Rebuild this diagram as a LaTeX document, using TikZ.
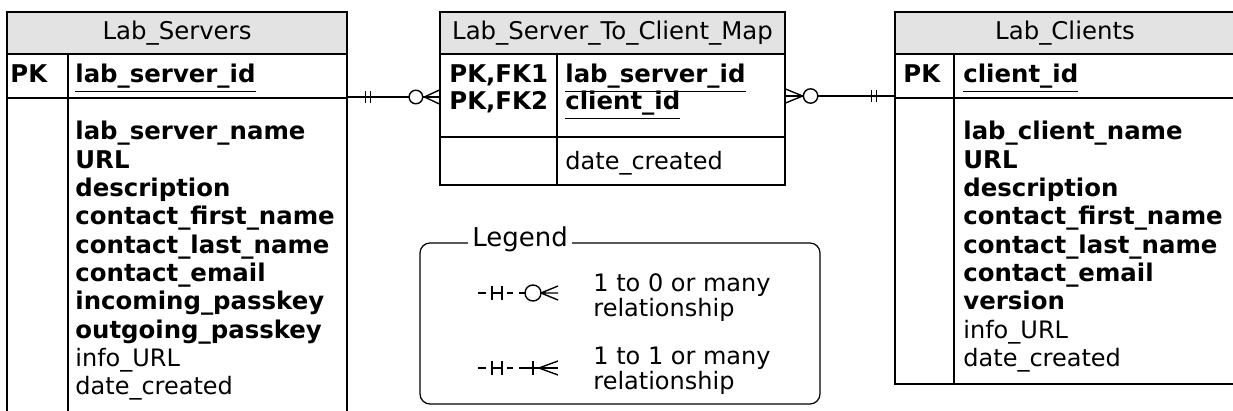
\documentclass[tikz,border=0pt]{standalone}
\usepackage{fontspec}
\setmainfont{DejaVu Sans}
\usetikzlibrary{calc,fit}
\begin{document}
\begin{tikzpicture}[x=0.5pt,y=-0.5pt,
  tbl/.style={draw, line width=0.6pt, inner sep=0pt},
  hdr/.style={fill=black!11},
  rule/.style={line width=0.6pt},
  fld/.style={anchor=base west, inner sep=0pt, font=\fontsize{12}{14}\selectfont},
  bfld/.style={anchor=base west, inner sep=0pt, font=\fontsize{12.2}{14}\selectfont\bfseries},
  ttl/.style={anchor=base, inner sep=0pt, font=\fontsize{12.2}{14}\selectfont},
  rel/.style={line width=0.7pt},
  legtxt/.style={anchor=base west, inner sep=0pt, font=\fontsize{12}{14}\selectfont}]
\useasboundingbox (0,0) rectangle (1233,411);
\clip (0,0) rectangle (1233,411);

% ---- Lab_Servers ----
\fill[hdr] (7,12) rectangle (347,54);
\node[tbl, fit={(7,12) (347,440)}] (servers) {};
\draw[rule] (servers.west |- 0,54) -- (servers.east |- 0,54);
\draw[rule] (servers.west |- 0,98) -- (servers.east |- 0,98);
\draw[rule] (68,54) -- (68,440);
\node[ttl] (servers-title) at (177,40) {Lab\_Servers};
\node[bfld] (servers-pk) at (10,83) {PK};
\node[bfld] (servers-id) at (75,83) {\underline{lab\_server\_id}};
\foreach \t [count=\k from 0] in {lab\_server\_name, URL, description,
    contact\_first\_name, contact\_last\_name, contact\_email,
    incoming\_passkey, outgoing\_passkey}
  \node[bfld] (sf\k) at (75,140+28.3*\k) {\t};
\node[fld] (sf8) at (75,140+28.3*8) {info\_URL};
\node[fld] (sf9) at (75,140+28.3*9) {date\_created};

% ---- Lab_Server_To_Client_Map ----
\fill[hdr] (440,12) rectangle (785,54);
\node[tbl, fit={(440,12) (785,185)}] (map) {};
\draw[rule] (map.west |- 0,54) -- (map.east |- 0,54);
\draw[rule] (map.west |- 0,137) -- (map.east |- 0,137);
\draw[rule] (557,54) -- (557,185);
\node[ttl] (map-title) at (612.5,40) {Lab\_Server\_To\_Client\_Map};
\node[bfld] (map-k1) at (449,83) {PK,FK1};
\node[bfld] (map-k2) at (449,110) {PK,FK2};
\node[bfld] (map-f1) at (565,83) {\underline{lab\_server\_id}};
\node[bfld] (map-f2) at (565,110) {\underline{client\_id}};
\node[fld] (map-f3) at (565,170) {date\_created};

% ---- Lab_Clients ----
\fill[hdr] (895,12) rectangle (1236,54);
\node[tbl, fit={(895,12) (1236,384)}] (clients) {};
\draw[rule] (clients.west |- 0,54) -- (clients.east |- 0,54);
\draw[rule] (clients.west |- 0,98) -- (clients.east |- 0,98);
\draw[rule] (954,54) -- (954,384);
\node[ttl] (clients-title) at (1065,40) {Lab\_Clients};
\node[bfld] (clients-pk) at (903,83) {PK};
\node[bfld] (clients-id) at (963,83) {\underline{client\_id}};
\foreach \t [count=\k from 0] in {lab\_client\_name, URL, description,
    contact\_first\_name, contact\_last\_name, contact\_email, version}
  \node[bfld] (cf\k) at (963,140+28.3*\k) {\t};
\node[fld] (cf7) at (963,140+28.3*7) {info\_URL};
\node[fld] (cf8) at (963,140+28.3*8) {date\_created};

% ---- relationships ----
\coordinate (r1a) at (servers.east |- 0,97);
\coordinate (r1b) at (map.west |- 0,97);
\draw[rel] (r1a) -- (r1b);
\draw[rel] ($(r1a)+(18,-6)$) -- ++(0,12);
\draw[rel] ($(r1a)+(23,-6)$) -- ++(0,12);
\draw[rel, fill=white] ($(r1b)+(-23.5,0)$) circle[radius=3.4pt];
\draw[rel] ($(r1b)+(-15,0)$) -- ($(r1b)+(0,-7)$)
           ($(r1b)+(-15,0)$) -- ($(r1b)+(0,7)$);

\coordinate (r2a) at (map.east |- 0,96);
\coordinate (r2b) at (clients.west |- 0,96);
\draw[rel] (r2a) -- (r2b);
\draw[rel] ($(r2a)+(17,0)$) -- ($(r2a)+(0,-7)$)
           ($(r2a)+(17,0)$) -- ($(r2a)+(0,7)$);
\draw[rel, fill=white] ($(r2a)+(25,0)$) circle[radius=3.6pt];
\draw[rel] ($(r2b)+(-23,-6)$) -- ++(0,12);
\draw[rel] ($(r2b)+(-18,-6)$) -- ++(0,12);

% ---- legend ----
\node[draw, line width=0.6pt, rounded corners=5pt, inner sep=0pt,
      fit={(420,243) (820,404)}] (legend) {};
\node[fill=white, inner sep=2pt, anchor=base west,
      font=\fontsize{13}{15}\selectfont] (legend-title) at (468,247) {Legend};

% 1 to 0 or many
\draw[rel] (478,293) -- (486,293) (507,293) -- (513,293) (519,293) -- (525,293);
\draw[rel] (492,286) -- (492,300) (502,286) -- (502,300) (492,293) -- (502,293);
\draw[rel] (533,293) circle[radius=4pt];
\draw[rel] (541,293) -- (558,293) (541,293) -- (558,286) (541,293) -- (558,300);
\node[legtxt] (leg1a) at (593,292) {1 to 0 or many};
\node[legtxt] (leg1b) at (593,317) {relationship};

% 1 to 1 or many
\draw[rel] (478,368) -- (486,368) (507,368) -- (513,368) (519,368) -- (558,368);
\draw[rel] (492,361) -- (492,375) (502,361) -- (502,375) (492,368) -- (502,368);
\draw[rel] (533,361) -- (533,375);
\draw[rel] (539,368) -- (558,361) (539,368) -- (558,375);
\node[legtxt] (leg2a) at (593,365) {1 to 1 or many};
\node[legtxt] (leg2b) at (593,390) {relationship};
\end{tikzpicture}
\end{document}
